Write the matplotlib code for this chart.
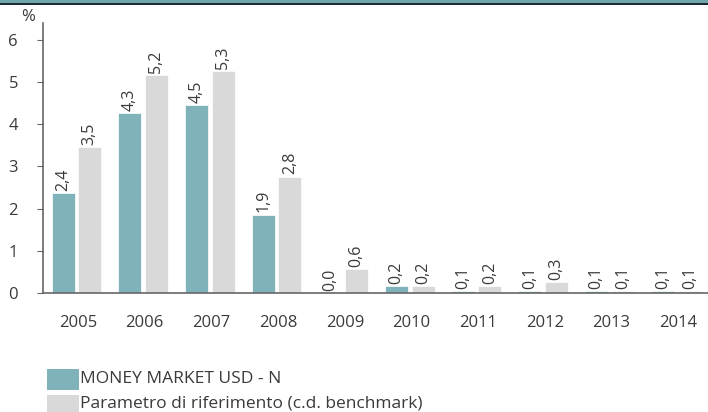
import matplotlib
matplotlib.use("Agg")
import matplotlib.pyplot as plt
import numpy as np
from matplotlib.patches import Rectangle

plt.rcParams['font.family'] = ['Open Sans', 'DejaVu Sans']

years = ['2005', '2006', '2007', '2008', '2009', '2010', '2011', '2012', '2013', '2014']
fund = [2.36, 4.26, 4.46, 1.86, 0.0, 0.16, 0.05, 0.05, 0.05, 0.05]
bench = [3.46, 5.16, 5.26, 2.76, 0.56, 0.16, 0.16, 0.26, 0.05, 0.05]
fund_labels = ['2,4', '4,3', '4,5', '1,9', '0,0', '0,2', '0,1', '0,1', '0,1', '0,1']
bench_labels = ['3,5', '5,2', '5,3', '2,8', '0,6', '0,2', '0,2', '0,3', '0,1', '0,1']
series_names = ['MONEY MARKET USD - N', 'Parametro di riferimento (c.d. benchmark)']

teal = '#80b3b9'
grey = '#d9d9d9'
txt = '#3a3a3a'

W, H = 708, 412
fig = plt.figure(figsize=(W / 100, H / 100), dpi=100)
ax = fig.add_axes([43 / W, 1 - 293 / H, 667 / W, (293 - 23) / H])

x = np.arange(len(years))
bw = 0.345
off = 0.2
ax.bar(x - off, fund, bw, color=teal, edgecolor='white', linewidth=0.5)
ax.bar(x + off, bench, bw, color=grey, edgecolor='white', linewidth=0.5)

for i in range(len(years)):
    ax.text(x[i] - off, fund[i] + 0.05, fund_labels[i], rotation=90, ha='center', va='bottom',
            fontsize=11.5, color=txt)
    ax.text(x[i] + off, bench[i] + 0.05, bench_labels[i], rotation=90, ha='center', va='bottom',
            fontsize=11.5, color=txt)

ax.set_xlim(-0.5, len(years) - 0.5)
ax.set_ylim(0, 6.4)
ax.set_yticks(range(0, 7))
ax.set_xticks(x + 0.025)
ax.set_xticklabels(years)
for s in ['top', 'right']:
    ax.spines[s].set_visible(False)
for s in ['left', 'bottom']:
    ax.spines[s].set_color('#666666')
    ax.spines[s].set_linewidth(1.2)
ax.tick_params(axis='y', length=4, width=0.8, color='#666666', labelsize=12, labelcolor=txt, pad=14)
ax.tick_params(axis='x', length=0, labelsize=12, labelcolor=txt, pad=16)

fig.text(28 / W, 1 - 17 / H, '%', fontsize=12, color=txt, ha='center', va='center')

# top stripe
fig.add_artist(Rectangle((0, 1 - 3 / H), 1, 3 / H, transform=fig.transFigure, color='#6fa7ad', lw=0))
fig.add_artist(Rectangle((0, 1 - 5 / H), 1, 2 / H, transform=fig.transFigure, color='#1d2b36', lw=0))

# legend
for j, (c, name) in enumerate(zip([teal, grey], series_names)):
    y0 = 369 + j * 26
    fig.add_artist(Rectangle((47 / W, 1 - (y0 + 21) / H), 32 / W, 21 / H, transform=fig.transFigure,
                             color=c, lw=0))
    fig.text(80 / W, 1 - (y0 + 10 - 2 * j) / H, name, fontsize=12.5, color=txt, ha='left', va='center')

fig.savefig('out.png', dpi=100)
